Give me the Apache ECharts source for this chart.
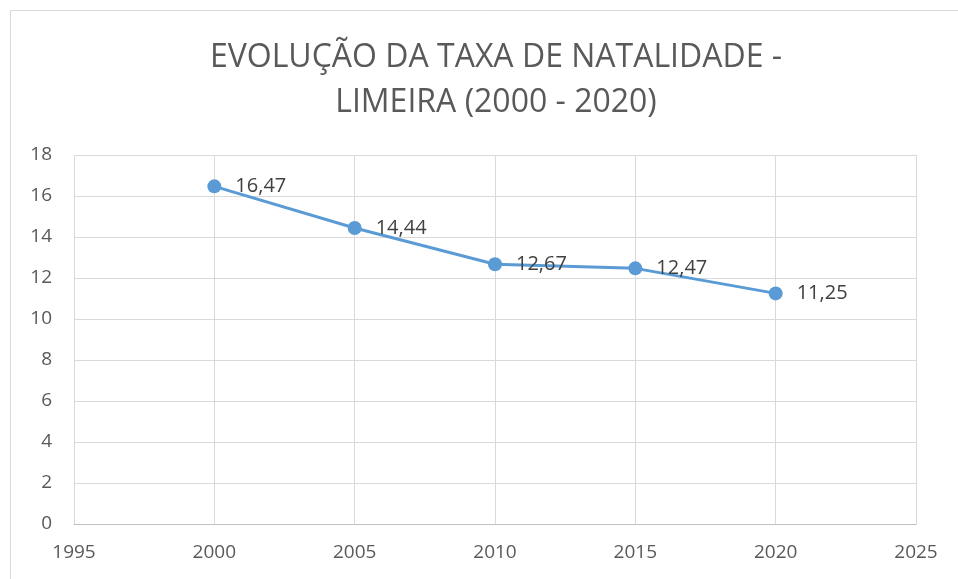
<!DOCTYPE html>
<html><head><meta charset="utf-8">
<script src="https://cdn.jsdelivr.net/npm/echarts@6/dist/echarts.min.js"></script>
<style>html,body{margin:0;padding:0;background:#fff}#c{width:958px;height:579px}</style>
</head><body><div id="c"></div>
<script>
var titleLines = ['EVOLUÇÃO DA TAXA DE NATALIDADE -', 'LIMEIRA (2000 - 2020)'];
var years = [2000, 2005, 2010, 2015, 2020];
var rates = [16.47, 14.44, 12.67, 12.47, 11.25];
var xTicks = [1995, 2025, 5];
var yTicks = [0, 18, 2];

var chart = echarts.init(document.getElementById('c'), null, {renderer: 'canvas'});
var FONT = '"Open Sans", "Noto Sans", sans-serif';
chart.setOption({
  animation: false,
  backgroundColor: '#fff',
  graphic: [{type: 'rect', shape: {x: 10.5, y: 10.5, width: 980, height: 600}, style: {fill: 'none', stroke: '#d9d9d9', lineWidth: 1}, silent: true}],
  title: {
    text: titleLines.join('\n'), left: 491, top: 30, textAlign: 'center',
    textStyle: {fontFamily: FONT, fontSize: 32, fontWeight: 'normal', color: '#595959', lineHeight: 45}
  },
  grid: {left: 74, right: 42, top: 155, bottom: 55, containLabel: false},
  xAxis: {
    type: 'value', min: xTicks[0], max: xTicks[1], interval: xTicks[2],
    axisLine: {show: true, lineStyle: {color: '#bfbfbf', width: 1}},
    axisTick: {show: false},
    splitLine: {show: true, lineStyle: {color: '#d9d9d9', width: 1}},
    axisLabel: {fontFamily: FONT, fontSize: 19, color: '#595959', margin: 19, formatter: function(v){return String(v);}}
  },
  yAxis: {
    type: 'value', min: yTicks[0], max: yTicks[1], interval: yTicks[2],
    axisLine: {show: false}, axisTick: {show: false},
    splitLine: {show: true, lineStyle: {color: '#d9d9d9', width: 1}},
    axisLabel: {fontFamily: FONT, fontSize: 19, color: '#595959', margin: 22}
  },
  series: [{
    type: 'line',
    data: years.map(function(y, i){ return [y, rates[i]]; }),
    symbol: 'circle', symbolSize: 14,
    lineStyle: {color: '#5b9bd5', width: 3},
    itemStyle: {color: '#5b9bd5'},
    label: {
      show: true, position: 'right', distance: 14,
      fontFamily: FONT, fontSize: 20, color: '#404040',
      formatter: function(p){ return p.value[1].toFixed(2).replace('.', ','); }
    }
  }]
});
</script></body></html>
